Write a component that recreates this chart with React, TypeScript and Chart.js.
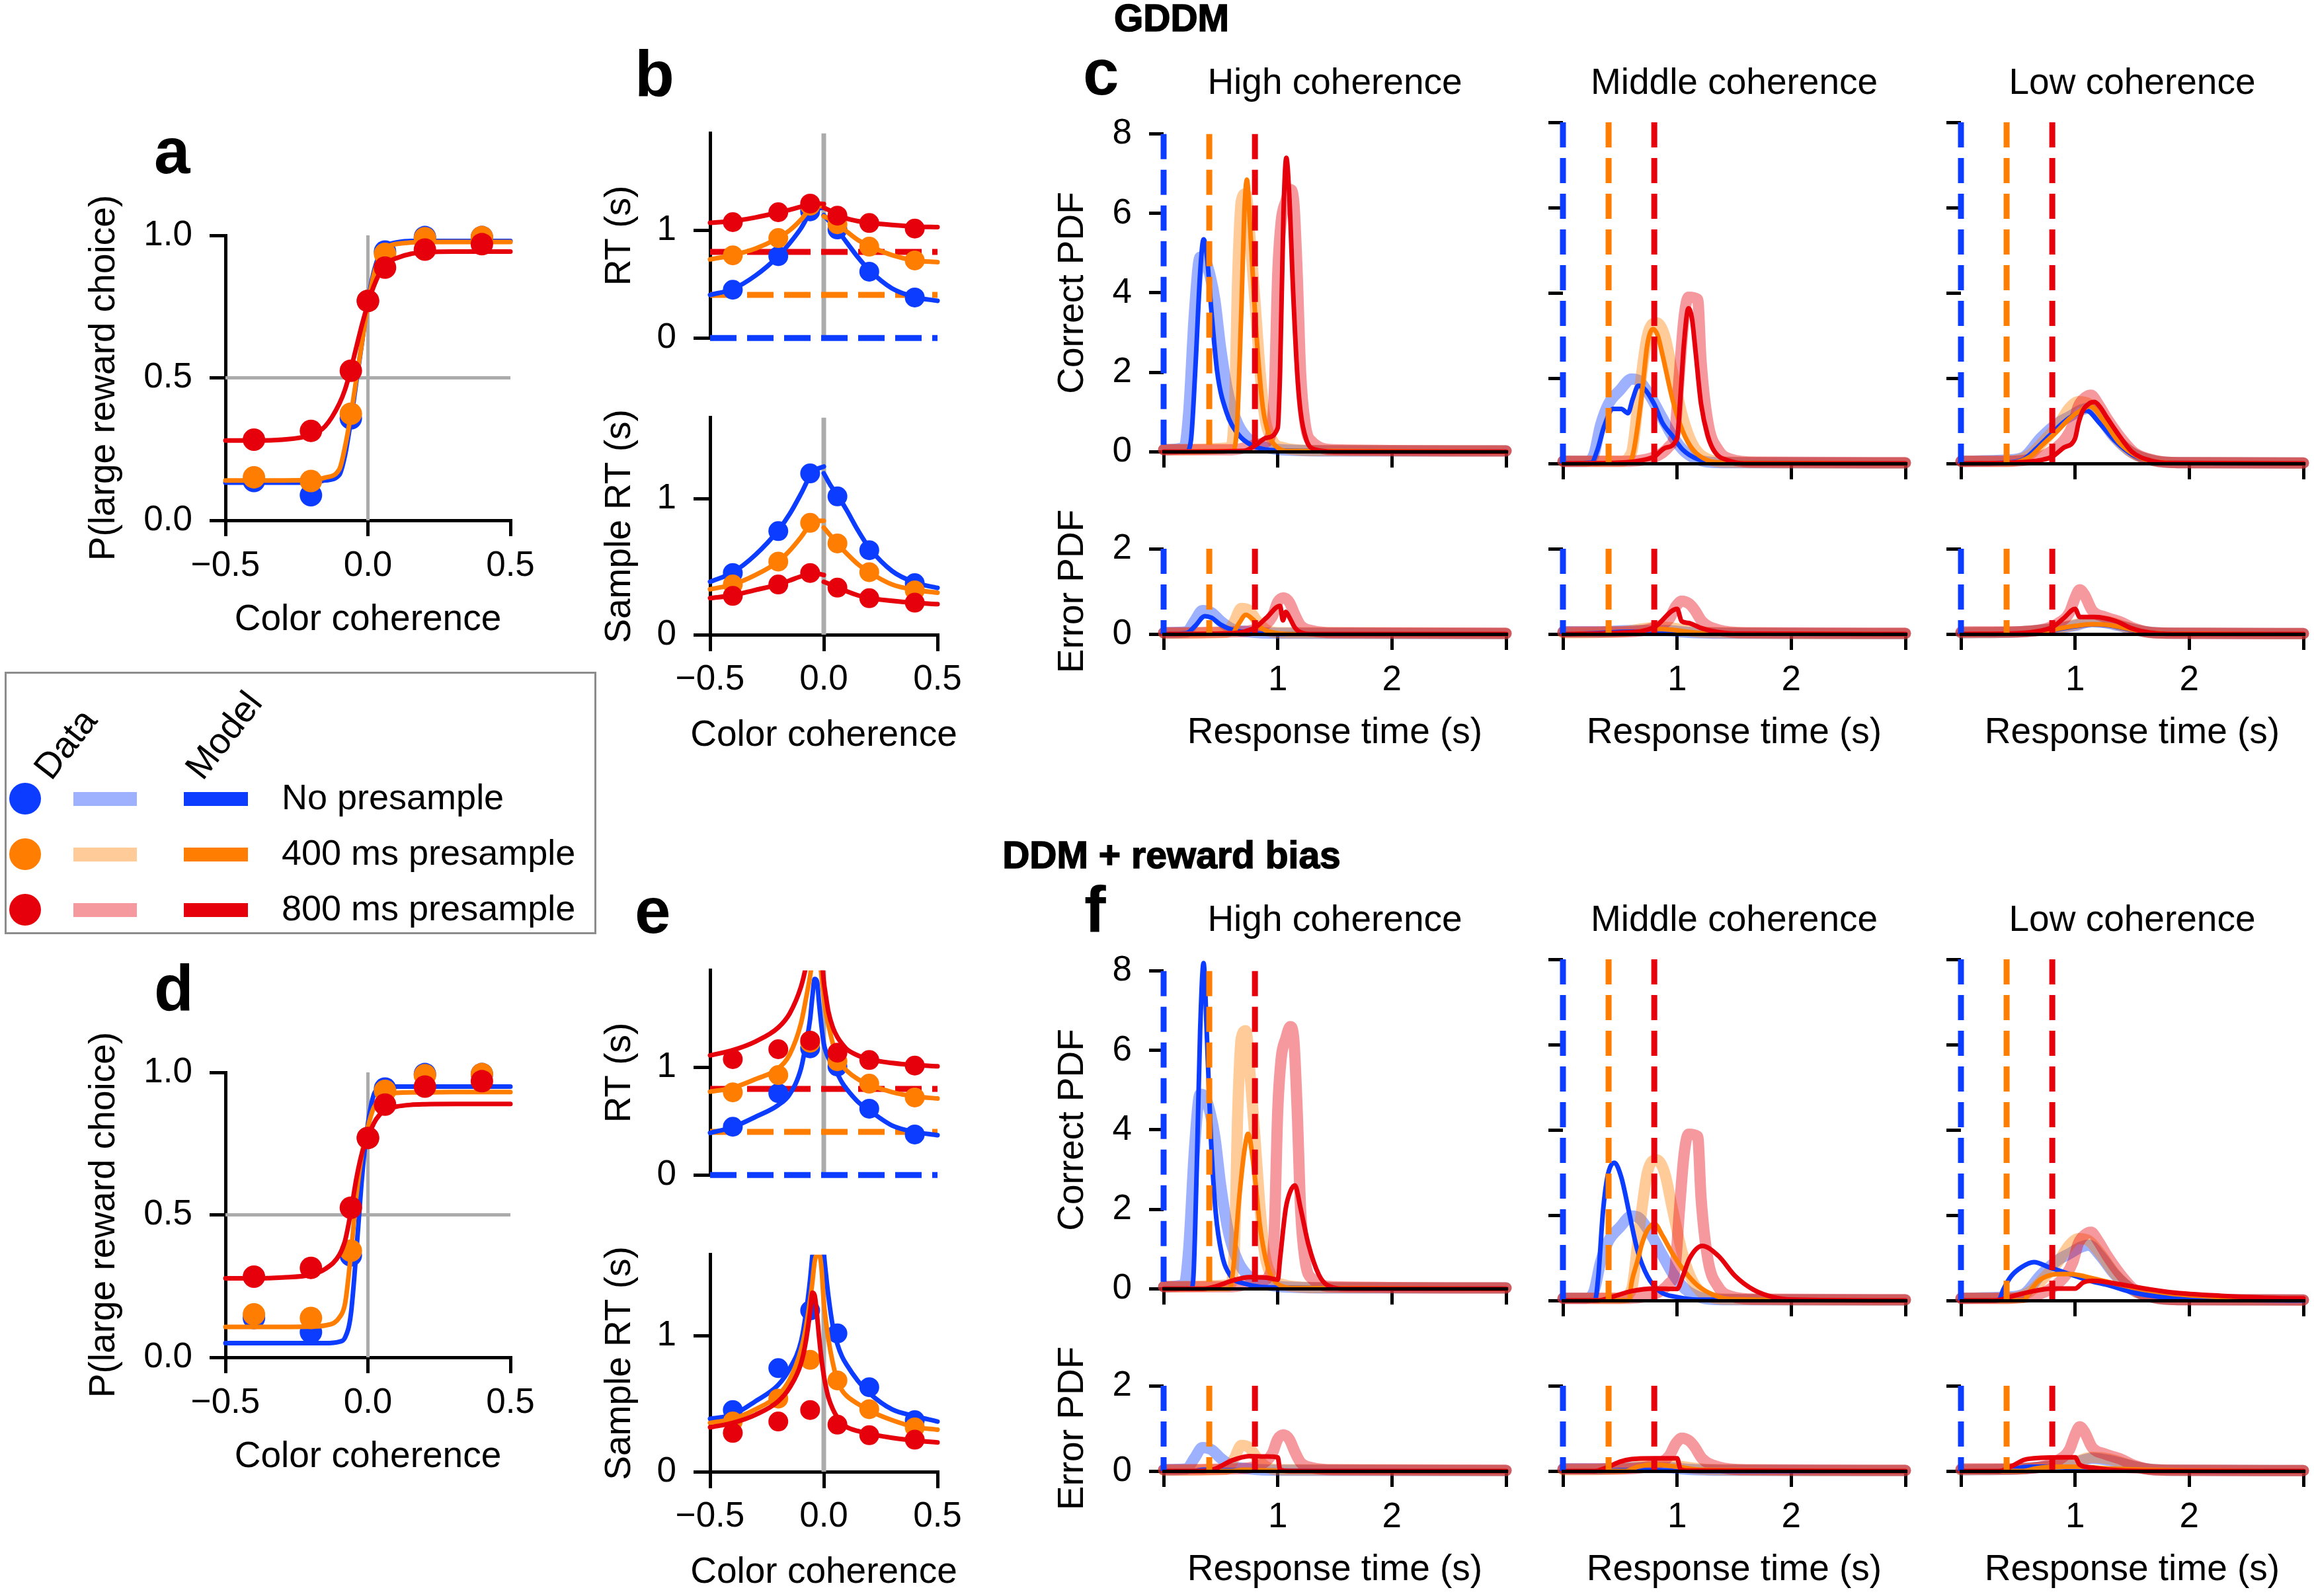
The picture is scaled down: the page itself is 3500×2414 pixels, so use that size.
import React, { useEffect, useRef } from 'react';
import { Chart, registerables } from 'chart.js';

Chart.register(...registerables);

const FONT = '"Liberation Sans", Arial, Helvetica, sans-serif';
Chart.defaults.font.family = FONT;
Chart.defaults.color = '#000';

const BLUE = '#0b3cff';
const ORANGE = '#ff7d00';
const RED = '#e6000c';
const COLORS = [BLUE, ORANGE, RED];
const PALES = ['rgba(11,60,255,0.4)', 'rgba(255,125,0,0.4)', 'rgba(230,0,12,0.4)'];
const GRAY = '#ababab';
const TICK_FONT = { family: FONT, size: 53, lineHeight: 1.2 };
const TITLE_FONT = { family: FONT, size: 55, lineHeight: 1.2 };

// ---------- conditions ----------
const conditionLabels = ['No presample', '400 ms presample', '800 ms presample'];
const presampleOnsets = [0, 0.4, 0.8];

// ---------- panel a / d : choice ----------
const choiceCoh = [-0.4, -0.2, -0.06, 0, 0.06, 0.2, 0.4];
const choiceBlue = [0.138, 0.088, 0.358, 0.77, 0.943, 0.994, 0.994];
const choiceOrange = [0.151, 0.138, 0.374, 0.77, 0.935, 0.99, 0.994];
const choiceRed = [0.283, 0.314, 0.525, 0.77, 0.887, 0.95, 0.969];

const choiceGrid = [-0.5, -0.4, -0.3, -0.2, -0.15, -0.1, -0.08, -0.06, -0.04, -0.02, 0, 0.02, 0.04, 0.06, 0.08, 0.1, 0.15, 0.2, 0.3, 0.4, 0.5];
const gddmChoiceBlue = [0.132, 0.132, 0.132, 0.133, 0.14, 0.16, 0.23, 0.35, 0.49, 0.63, 0.77, 0.87, 0.93, 0.955, 0.97, 0.975, 0.98, 0.98, 0.98, 0.98, 0.98];
const gddmChoiceOrange = [0.14, 0.14, 0.14, 0.142, 0.15, 0.18, 0.26, 0.37, 0.5, 0.63, 0.76, 0.86, 0.92, 0.95, 0.965, 0.97, 0.975, 0.977, 0.977, 0.977, 0.977];
const gddmChoiceRed = [0.28, 0.28, 0.283, 0.3, 0.33, 0.41, 0.46, 0.53, 0.61, 0.69, 0.76, 0.82, 0.865, 0.89, 0.91, 0.92, 0.935, 0.94, 0.943, 0.943, 0.943];
const ddmChoiceBlue = [0.05, 0.05, 0.05, 0.05, 0.05, 0.055, 0.07, 0.15, 0.38, 0.64, 0.82, 0.92, 0.943, 0.95, 0.95, 0.95, 0.95, 0.95, 0.95, 0.95, 0.95];
const ddmChoiceOrange = [0.107, 0.107, 0.107, 0.108, 0.112, 0.14, 0.19, 0.36, 0.57, 0.72, 0.81, 0.875, 0.905, 0.918, 0.925, 0.928, 0.93, 0.93, 0.931, 0.931, 0.931];
const ddmChoiceRed = [0.277, 0.277, 0.28, 0.29, 0.31, 0.36, 0.41, 0.51, 0.63, 0.72, 0.77, 0.82, 0.85, 0.865, 0.875, 0.88, 0.886, 0.888, 0.889, 0.889, 0.889];

// ---------- panel b / e : RT ----------
const rtCoh = [-0.4, -0.2, -0.06, 0.06, 0.2, 0.4];
const rtBlue = [0.448, 0.76, 1.176, 1.008, 0.616, 0.376];
const rtOrange = [0.768, 0.928, 1.228, 1.056, 0.848, 0.72];
const rtRed = [1.076, 1.168, 1.248, 1.136, 1.068, 1.016];
const sampleBlue = [0.455, 0.764, 1.189, 1.02, 0.623, 0.38];
const sampleOrange = [0.37, 0.539, 0.825, 0.673, 0.461, 0.327];
const sampleRed = [0.286, 0.37, 0.455, 0.347, 0.269, 0.236];

const gddmLeftGrid = [-0.5, -0.4, -0.3, -0.2, -0.15, -0.1, -0.06, -0.03, 0];
const gddmRightGrid = [0, 0.03, 0.06, 0.1, 0.15, 0.2, 0.3, 0.4, 0.5];
const gddmRtBlueL = [0.4, 0.455, 0.58, 0.76, 0.88, 1.02, 1.16, 1.2, 1.21];
const gddmRtBlueR = [1.14, 1.07, 1.0, 0.89, 0.75, 0.63, 0.46, 0.38, 0.345];
const gddmRtOrangeL = [0.73, 0.77, 0.83, 0.93, 1.0, 1.1, 1.2, 1.23, 1.22];
const gddmRtOrangeR = [1.13, 1.1, 1.06, 0.99, 0.91, 0.855, 0.77, 0.72, 0.705];
const gddmRtRedL = [1.07, 1.085, 1.12, 1.165, 1.19, 1.22, 1.245, 1.25, 1.245];
const gddmRtRedR = [1.21, 1.18, 1.145, 1.11, 1.085, 1.07, 1.05, 1.035, 1.03];
const gddmSampleBlueL = [0.39, 0.46, 0.59, 0.77, 0.89, 1.04, 1.17, 1.22, 1.24];
const gddmSampleBlueR = [1.19, 1.1, 1.03, 0.92, 0.77, 0.64, 0.47, 0.385, 0.345];
const gddmSampleOrangeL = [0.335, 0.37, 0.44, 0.54, 0.62, 0.72, 0.81, 0.84, 0.84];
const gddmSampleOrangeR = [0.79, 0.73, 0.67, 0.6, 0.52, 0.46, 0.37, 0.33, 0.31];
const gddmSampleRedL = [0.27, 0.29, 0.33, 0.37, 0.4, 0.43, 0.45, 0.45, 0.44];
const gddmSampleRedR = [0.39, 0.37, 0.35, 0.32, 0.29, 0.27, 0.25, 0.235, 0.225];

const ddmGrid = [-0.5, -0.4, -0.3, -0.2, -0.15, -0.1, -0.08, -0.06, -0.05, -0.04, -0.03, -0.02, -0.01, 0, 0.01, 0.02, 0.04, 0.06, 0.08, 0.1, 0.15, 0.2, 0.3, 0.4, 0.5];
const ddmRtBlue = [0.39, 0.445, 0.54, 0.65, 0.75, 0.99, 1.2, 1.45, 1.66, 1.82, 1.8, 1.58, 1.38, 1.22, 1.14, 1.09, 1.01, 0.94, 0.86, 0.8, 0.68, 0.6, 0.46, 0.4, 0.37];
const ddmRtOrange = [0.774, 0.81, 0.89, 0.99, 1.12, 1.41, 1.62, 1.85, 2.0, 2.15, 2.2, 2.05, 1.85, 1.65, 1.5, 1.4, 1.22, 1.09, 1.02, 0.97, 0.89, 0.84, 0.77, 0.73, 0.71];
const ddmRtRed = [1.11, 1.16, 1.24, 1.37, 1.5, 1.75, 1.92, 2.15, 2.3, 2.4, 2.4, 2.3, 2.05, 1.8, 1.65, 1.52, 1.37, 1.28, 1.22, 1.17, 1.11, 1.075, 1.04, 1.02, 1.01];
const ddmSampleBlue = [0.39, 0.42, 0.52, 0.64, 0.76, 0.96, 1.15, 1.42, 1.6, 1.8, 1.95, 2.0, 1.9, 1.62, 1.45, 1.3, 1.07, 0.94, 0.85, 0.79, 0.67, 0.58, 0.46, 0.41, 0.37];
const ddmSampleOrange = [0.36, 0.39, 0.46, 0.565, 0.68, 0.9, 1.05, 1.27, 1.4, 1.55, 1.6, 1.6, 1.5, 1.25, 1.1, 0.98, 0.8, 0.67, 0.6, 0.56, 0.5, 0.45, 0.38, 0.33, 0.31];
const ddmSampleRed = [0.327, 0.36, 0.42, 0.52, 0.62, 0.8, 0.95, 1.18, 1.32, 1.3, 1.16, 0.98, 0.83, 0.71, 0.62, 0.55, 0.46, 0.4, 0.36, 0.33, 0.3, 0.28, 0.25, 0.23, 0.216];

// ---------- panel c / f : RT distributions, [time (s), density] ----------
// data (shared by c and f)
const dataHiCorBlue = [[0, 0.05], [0.18, 0.1], [0.22, 1.0], [0.27, 3.5], [0.32, 4.9], [0.36, 4.85], [0.41, 4.4], [0.45, 3.8], [0.5, 2.6], [0.57, 1.4], [0.65, 0.7], [0.75, 0.3], [0.9, 0.1], [1.1, 0.04], [1.5, 0.02], [3, 0.02]];
const dataHiCorOrange = [[0, 0.05], [0.58, 0.1], [0.62, 1.0], [0.65, 4.5], [0.68, 6.3], [0.72, 6.5], [0.76, 5.3], [0.8, 3.8], [0.84, 2.2], [0.88, 1.0], [0.95, 0.3], [1.05, 0.1], [1.3, 0.03], [3, 0.02]];
const dataHiCorRed = [[0, 0.05], [0.6, 0.05], [0.85, 0.2], [0.93, 0.35], [0.97, 1.5], [1.0, 4.5], [1.03, 5.8], [1.07, 6.3], [1.11, 6.6], [1.14, 6.3], [1.17, 4.5], [1.2, 2.0], [1.24, 0.7], [1.3, 0.25], [1.5, 0.05], [3, 0.02]];
const dataHiErrBlue = [[0, 0.03], [0.2, 0.05], [0.27, 0.3], [0.34, 0.55], [0.42, 0.5], [0.5, 0.3], [0.6, 0.12], [0.75, 0.05], [1, 0.02], [3, 0.01]];
const dataHiErrOrange = [[0, 0.02], [0.55, 0.04], [0.62, 0.3], [0.68, 0.6], [0.75, 0.55], [0.82, 0.3], [0.9, 0.1], [1, 0.03], [3, 0.01]];
const dataHiErrRed = [[0, 0.03], [0.6, 0.05], [0.85, 0.15], [0.95, 0.4], [1.0, 0.75], [1.05, 0.85], [1.1, 0.75], [1.15, 0.45], [1.2, 0.2], [1.3, 0.08], [1.5, 0.03], [3, 0.02]];
const dataMidCorBlue = [[0, 0.05], [0.2, 0.05], [0.27, 0.2], [0.33, 0.9], [0.4, 1.4], [0.5, 1.72], [0.6, 1.98], [0.67, 1.93], [0.76, 1.6], [0.87, 1.07], [0.96, 0.64], [1.07, 0.27], [1.22, 0.06], [1.4, 0.02], [3, 0.01]];
const dataMidCorOrange = [[0, 0.05], [0.5, 0.05], [0.6, 0.25], [0.67, 1.7], [0.74, 3.0], [0.82, 3.3], [0.89, 3.0], [0.96, 2.14], [1.05, 1.07], [1.14, 0.43], [1.27, 0.1], [1.45, 0.03], [3, 0.01]];
const dataMidCorRed = [[0, 0.05], [0.5, 0.05], [0.8, 0.15], [0.93, 0.4], [0.98, 0.7], [1.02, 2.1], [1.06, 3.4], [1.1, 3.9], [1.18, 3.85], [1.21, 2.4], [1.27, 0.96], [1.36, 0.32], [1.47, 0.1], [1.7, 0.03], [3, 0.02]];
const dataMidErrBlue = [[0, 0.05], [0.3, 0.05], [0.6, 0.08], [0.9, 0.08], [1.1, 0.04], [1.4, 0.02], [3, 0.01]];
const dataMidErrOrange = [[0, 0.03], [0.5, 0.05], [0.75, 0.14], [0.9, 0.16], [1.05, 0.1], [1.25, 0.04], [3, 0.01]];
const dataMidErrRed = [[0, 0.05], [0.5, 0.05], [0.8, 0.15], [0.93, 0.35], [0.99, 0.65], [1.04, 0.77], [1.1, 0.72], [1.15, 0.58], [1.22, 0.29], [1.36, 0.1], [1.6, 0.03], [3, 0.02]];
const dataLowCorBlue = [[0, 0.05], [0.4, 0.08], [0.55, 0.15], [0.7, 0.6], [0.85, 0.95], [0.95, 1.1], [1.05, 1.25], [1.12, 1.3], [1.22, 1.05], [1.35, 0.6], [1.5, 0.25], [1.68, 0.07], [1.9, 0.02], [3, 0.01]];
const dataLowCorOrange = [[0, 0.05], [0.4, 0.05], [0.6, 0.2], [0.75, 0.6], [0.85, 0.9], [0.95, 1.3], [1.03, 1.45], [1.12, 1.4], [1.22, 1.1], [1.35, 0.62], [1.5, 0.25], [1.68, 0.07], [1.9, 0.02], [3, 0.01]];
const dataLowCorRed = [[0, 0.05], [0.4, 0.05], [0.65, 0.12], [0.8, 0.3], [0.92, 0.6], [0.98, 0.9], [1.03, 1.35], [1.09, 1.55], [1.14, 1.6], [1.2, 1.4], [1.28, 1.05], [1.4, 0.6], [1.52, 0.25], [1.7, 0.07], [1.9, 0.02], [3, 0.01]];
const dataLowErrBlue = [[0, 0.03], [0.5, 0.05], [0.8, 0.12], [1.0, 0.2], [1.15, 0.3], [1.3, 0.25], [1.45, 0.15], [1.6, 0.06], [1.8, 0.02], [3, 0.01]];
const dataLowErrOrange = [[0, 0.03], [0.5, 0.05], [0.8, 0.12], [1.0, 0.22], [1.15, 0.32], [1.3, 0.28], [1.45, 0.16], [1.6, 0.06], [1.8, 0.02], [3, 0.01]];
const dataLowErrRed = [[0, 0.05], [0.4, 0.05], [0.7, 0.1], [0.85, 0.25], [0.95, 0.5], [1.0, 0.85], [1.04, 1.04], [1.08, 0.93], [1.15, 0.55], [1.26, 0.4], [1.39, 0.29], [1.52, 0.13], [1.68, 0.03], [1.9, 0.02], [3, 0.01]];

// GDDM model (panel c)
const gddmHiCorBlue = [[0, 0], [0.2, 0], [0.24, 0.3], [0.28, 2.2], [0.32, 4.5], [0.35, 5.35], [0.38, 4.9], [0.42, 3.5], [0.47, 2.0], [0.55, 1.0], [0.65, 0.45], [0.78, 0.15], [1.0, 0.03], [3, 0]];
const gddmHiCorOrange = [[0, 0], [0.6, 0.02], [0.64, 0.5], [0.68, 3.5], [0.71, 6.2], [0.73, 6.85], [0.755, 5.8], [0.79, 4.0], [0.83, 2.3], [0.87, 1.1], [0.92, 0.45], [1.0, 0.1], [1.1, 0.02], [3, 0]];
const gddmHiCorRed = [[0, 0], [0.7, 0.02], [0.8, 0.15], [0.9, 0.35], [1.0, 0.6], [1.02, 2.0], [1.05, 6.0], [1.075, 7.4], [1.1, 6.5], [1.135, 4.0], [1.17, 2.0], [1.2, 1.0], [1.25, 0.3], [1.32, 0.06], [1.5, 0], [3, 0]];
const gddmHiErrBlue = [[0, 0], [0.2, 0.02], [0.28, 0.2], [0.36, 0.42], [0.42, 0.38], [0.5, 0.22], [0.6, 0.1], [0.75, 0.03], [1, 0], [3, 0]];
const gddmHiErrOrange = [[0, 0], [0.6, 0.02], [0.66, 0.25], [0.72, 0.45], [0.78, 0.35], [0.85, 0.15], [0.95, 0.04], [1.1, 0], [3, 0]];
const gddmHiErrRed = [[0, 0], [0.6, 0.02], [0.8, 0.15], [0.9, 0.38], [1.02, 0.66], [1.045, 0.32], [1.07, 0.52], [1.1, 0.4], [1.15, 0.15], [1.2, 0.04], [1.3, 0], [3, 0]];
const gddmMidCorBlue = [[0, 0], [0.25, 0.02], [0.3, 0.3], [0.36, 0.86], [0.44, 1.28], [0.51, 1.28], [0.57, 1.18], [0.61, 1.5], [0.66, 1.82], [0.71, 1.76], [0.8, 1.39], [0.87, 0.96], [0.96, 0.64], [1.05, 0.32], [1.18, 0.1], [1.4, 0.02], [3, 0]];
const gddmMidCorOrange = [[0, 0], [0.58, 0.02], [0.62, 0.3], [0.69, 1.6], [0.74, 2.8], [0.79, 3.15], [0.83, 3.0], [0.87, 2.57], [0.96, 1.5], [1.05, 0.75], [1.14, 0.32], [1.27, 0.07], [1.4, 0.02], [3, 0]];
const gddmMidCorRed = [[0, 0], [0.5, 0.02], [0.7, 0.08], [0.8, 0.16], [0.9, 0.37], [1.0, 0.59], [1.03, 1.6], [1.06, 2.8], [1.1, 3.64], [1.13, 3.4], [1.16, 2.67], [1.21, 1.39], [1.27, 0.64], [1.33, 0.27], [1.45, 0.07], [1.6, 0], [3, 0]];
const gddmMidErrBlue = [[0, 0], [0.3, 0.02], [0.5, 0.05], [0.7, 0.06], [0.9, 0.05], [1.1, 0.03], [1.3, 0.01], [3, 0]];
const gddmMidErrOrange = [[0, 0], [0.6, 0.03], [0.8, 0.12], [0.95, 0.1], [1.1, 0.05], [1.3, 0.01], [3, 0]];
const gddmMidErrRed = [[0, 0], [0.5, 0.03], [0.8, 0.16], [1.0, 0.59], [1.04, 0.3], [1.1, 0.26], [1.2, 0.15], [1.31, 0.07], [1.5, 0.01], [3, 0]];
const gddmLowCorBlue = [[0, 0], [0.4, 0.02], [0.55, 0.1], [0.66, 0.35], [0.77, 0.64], [0.95, 1.07], [1.1, 1.24], [1.21, 0.96], [1.35, 0.53], [1.5, 0.21], [1.66, 0.06], [1.85, 0.01], [3, 0]];
const gddmLowCorOrange = [[0, 0], [0.45, 0.02], [0.6, 0.15], [0.72, 0.45], [0.84, 0.75], [0.95, 1.05], [1.04, 1.23], [1.13, 1.34], [1.26, 0.96], [1.39, 0.48], [1.55, 0.16], [1.68, 0.05], [1.9, 0.01], [3, 0]];
const gddmLowCorRed = [[0, 0], [0.45, 0.02], [0.7, 0.08], [0.8, 0.16], [0.9, 0.37], [1.0, 0.59], [1.03, 0.95], [1.07, 1.25], [1.12, 1.4], [1.17, 1.44], [1.22, 1.32], [1.28, 1.07], [1.39, 0.64], [1.5, 0.27], [1.66, 0.07], [1.85, 0.01], [3, 0]];
const gddmLowErrBlue = [[0, 0], [0.5, 0.01], [0.75, 0.06], [0.95, 0.16], [1.15, 0.22], [1.3, 0.2], [1.45, 0.12], [1.6, 0.05], [1.8, 0.01], [3, 0]];
const gddmLowErrOrange = [[0, 0], [0.5, 0.01], [0.75, 0.07], [0.95, 0.17], [1.15, 0.23], [1.3, 0.21], [1.45, 0.13], [1.6, 0.05], [1.8, 0.01], [3, 0]];
const gddmLowErrRed = [[0, 0], [0.5, 0.02], [0.7, 0.08], [0.8, 0.16], [0.9, 0.37], [1.0, 0.59], [1.04, 0.4], [1.17, 0.4], [1.35, 0.31], [1.5, 0.13], [1.66, 0.03], [1.85, 0], [3, 0]];

// DDM + reward bias model (panel f)
const ddmHiCorBlue = [[0, 0], [0.24, 0], [0.26, 0.25], [0.29, 3.0], [0.32, 6.5], [0.35, 8.2], [0.38, 6.3], [0.415, 3.75], [0.457, 1.9], [0.51, 0.87], [0.58, 0.35], [0.72, 0.12], [1.0, 0.03], [3, 0]];
const ddmHiCorOrange = [[0, 0], [0.58, 0], [0.61, 0.5], [0.665, 2.37], [0.71, 3.52], [0.74, 3.9], [0.79, 3.06], [0.845, 1.56], [0.915, 0.52], [1.0, 0.12], [1.14, 0.02], [3, 0]];
const ddmHiCorRed = [[0, 0], [0.35, 0], [0.45, 0.05], [0.6, 0.2], [0.75, 0.29], [0.9, 0.28], [1.0, 0.23], [1.02, 0.75], [1.07, 2.02], [1.11, 2.45], [1.15, 2.6], [1.2, 2.02], [1.27, 1.1], [1.36, 0.35], [1.44, 0.08], [1.6, 0], [3, 0]];
const ddmHiErrBlue = [[0, 0], [0.25, 0], [0.35, 0.03], [0.5, 0.02], [0.8, 0.01], [3, 0]];
const ddmHiErrOrange = [[0, 0], [0.6, 0], [0.7, 0.03], [0.85, 0.02], [1.1, 0], [3, 0]];
const ddmHiErrRed = [[0, 0], [0.35, 0], [0.45, 0.05], [0.6, 0.25], [0.75, 0.35], [0.9, 0.34], [1.0, 0.32], [1.02, 0.03], [1.1, 0], [3, 0]];
const ddmMidCorBlue = [[0, 0], [0.28, 0], [0.31, 0.57], [0.35, 2.06], [0.39, 2.9], [0.45, 3.23], [0.51, 2.9], [0.58, 2.06], [0.65, 1.2], [0.74, 0.57], [0.85, 0.21], [1.0, 0.08], [1.18, 0.02], [3, 0]];
const ddmMidCorOrange = [[0, 0], [0.58, 0], [0.6, 0.4], [0.65, 0.9], [0.69, 1.31], [0.74, 1.65], [0.8, 1.8], [0.87, 1.53], [0.96, 1.1], [1.07, 0.67], [1.18, 0.35], [1.31, 0.14], [1.47, 0.03], [3, 0]];
const ddmMidCorRed = [[0, 0], [0.3, 0], [0.45, 0.1], [0.6, 0.22], [0.8, 0.28], [1.0, 0.27], [1.05, 0.57], [1.11, 0.99], [1.22, 1.28], [1.36, 1.05], [1.51, 0.57], [1.67, 0.25], [1.84, 0.08], [2.02, 0.02], [3, 0]];
const ddmMidErrBlue = [[0, 0], [0.3, 0], [0.5, 0.02], [0.8, 0.02], [1.2, 0], [3, 0]];
const ddmMidErrOrange = [[0, 0], [0.55, 0], [0.65, 0.1], [0.8, 0.15], [1.0, 0.1], [1.2, 0.03], [3, 0]];
const ddmMidErrRed = [[0, 0], [0.28, 0], [0.4, 0.1], [0.5, 0.22], [0.6, 0.28], [0.8, 0.3], [1.0, 0.3], [1.03, 0.04], [1.1, 0.01], [3, 0]];
const ddmLowCorBlue = [[0, 0], [0.33, 0], [0.37, 0.25], [0.44, 0.57], [0.53, 0.78], [0.64, 0.9], [0.77, 0.78], [0.95, 0.62], [1.13, 0.46], [1.3, 0.35], [1.5, 0.19], [1.73, 0.09], [2.06, 0.03], [3, 0]];
const ddmLowCorOrange = [[0, 0], [0.55, 0], [0.6, 0.2], [0.68, 0.46], [0.79, 0.6], [0.88, 0.62], [0.95, 0.62], [1.17, 0.51], [1.39, 0.37], [1.61, 0.25], [1.84, 0.16], [2.28, 0.08], [2.94, 0.03], [3, 0.03]];
const ddmLowCorRed = [[0, 0], [0.3, 0], [0.45, 0.1], [0.6, 0.2], [0.8, 0.28], [1.0, 0.28], [1.07, 0.42], [1.15, 0.46], [1.39, 0.38], [1.61, 0.28], [1.84, 0.19], [2.28, 0.11], [2.94, 0.05], [3, 0.05]];
const ddmLowErrBlue = [[0, 0], [0.33, 0], [0.45, 0.05], [0.6, 0.1], [0.8, 0.1], [1.0, 0.07], [1.3, 0.03], [1.6, 0.01], [3, 0]];
const ddmLowErrOrange = [[0, 0], [0.55, 0], [0.65, 0.06], [0.8, 0.1], [1.0, 0.1], [1.3, 0.06], [1.6, 0.03], [2, 0.01], [3, 0]];
const ddmLowErrRed = [[0, 0], [0.33, 0], [0.45, 0.12], [0.55, 0.26], [0.7, 0.31], [0.9, 0.32], [1.0, 0.32], [1.04, 0.15], [1.15, 0.08], [1.3, 0.03], [1.6, 0], [3, 0]];

// tick values
const cohTicks = [-0.5, 0, 0.5];
const probTicks = [0, 0.5, 1];
const rtTicks = [0, 1];
const timeTicks = [0, 1, 2, 3];
const correctTicks = [0, 2, 4, 6, 8];
const errorTicks = [0, 2];
const columnTitles = ['High coherence', 'Middle coherence', 'Low coherence'];

// ---------- helpers ----------
const pts = (a: number[][]) => a.map(([x, y]) => ({ x, y }));
const zip = (xs: number[], ys: number[]) => xs.map((x, i) => ({ x, y: ys[i] }));
const fmt1 = (v: number) => (v < 0 ? '\u2212' : '') + Math.abs(v).toFixed(1);
const fmt0 = (v: number) => String(v);
const fmtTime = (v: number) => (v === 1 || v === 2 ? String(v) : '');

function curve(data: any[], color: string, width: number, clip: any) {
  return {
    data, borderColor: color, backgroundColor: color, borderWidth: width, pointRadius: 0, fill: false,
    cubicInterpolationMode: 'monotone', borderCapStyle: 'round', borderJoinStyle: 'round', clip,
  };
}
function straight(data: any[], color: string, width: number, dash: number[] = []) {
  return {
    data, borderColor: color, backgroundColor: color, borderWidth: width, pointRadius: 0, fill: false,
    tension: 0, borderDash: dash, borderCapStyle: 'butt', clip: false,
  };
}
function dots(data: any[], color: string, r: number) {
  return {
    data, showLine: false, pointRadius: r, pointBackgroundColor: color, pointBorderColor: color,
    pointBorderWidth: 0, borderColor: color, backgroundColor: color, clip: false,
  };
}
function stack(list: any[]) {
  const n = list.length;
  return list.map((d, i) => ({ ...d, order: n - i }));
}
function scale(o: any) {
  return {
    type: 'linear', min: o.min, max: o.max,
    afterFit: (s: any) => { if (o.horizontal) s.height = o.size; else s.width = o.size; },
    afterBuildTicks: (s: any) => { s.ticks = o.ticks.map((v: number) => ({ value: v })); },
    ticks: {
      display: !!o.labels, autoSkip: false, maxRotation: 0, minRotation: 0, padding: o.pad || 0,
      color: '#000', font: TICK_FONT, callback: (v: number) => (o.labels ? o.labels(v) : ''),
    },
    grid: {
      display: (o.tick || 0) > 0, drawOnChartArea: false, drawTicks: true, tickLength: o.tick || 0,
      tickWidth: 5, tickColor: '#000', color: '#000', lineWidth: 5,
    },
    border: { display: !!o.border, width: 5, color: '#000', z: o.borderZ || 0 },
    title: { display: !!o.title, text: o.title || '', color: '#000', font: TITLE_FONT, padding: { top: 0, bottom: 0 } },
  };
}
function config(datasets: any[], xs: any, ys: any, f: any) {
  return {
    type: 'line',
    data: { datasets },
    options: {
      animation: false, responsive: false, maintainAspectRatio: false, events: [],
      layout: { padding: { top: f.T, right: f.R, left: 0, bottom: 0 } },
      plugins: { legend: { display: false }, tooltip: { enabled: false }, title: { display: false } },
      scales: { x: xs, y: ys },
    },
  };
}
function frame(px: number, py: number, pw: number, ph: number, L: number, T: number, R: number, B: number) {
  return { left: px - L, top: py - T, width: pw + L + R, height: ph + T + B, L, T, R, B };
}

const MODEL_W = 7;
const PALE_W = 17;

// ---------- builders ----------
function choiceBuild(models: number[][]) {
  return (f: any) => {
    const dotVals = [choiceBlue, choiceOrange, choiceRed];
    const list: any[] = [
      straight([{ x: 0, y: 0 }, { x: 0, y: 1 }], GRAY, 5),
      straight([{ x: -0.5, y: 0.5 }, { x: 0.5, y: 0.5 }], GRAY, 5),
    ];
    models.forEach((m, i) => {
      list.push(curve(zip(choiceGrid, m), COLORS[i], MODEL_W, 6));
      list.push(dots(zip(choiceCoh, dotVals[i]), COLORS[i], 17));
    });
    const xs = scale({ horizontal: true, min: -0.5, max: 0.5, ticks: cohTicks, labels: fmt1, size: f.B, tick: 24, pad: 14, border: true, title: 'Color coherence' });
    const ys = scale({ horizontal: false, min: 0, max: 1, ticks: probTicks, labels: fmt1, size: f.L, tick: 24, pad: 26, border: true, title: 'P(large reward choice)' });
    return config(stack(list), xs, ys, f);
  };
}

function rtBuild(modelsByColor: any[][], dotVals: number[][], ymax: number, top: boolean, yTitle: string) {
  return (f: any) => {
    const list: any[] = [straight([{ x: 0, y: 0 }, { x: 0, y: ymax }], GRAY, 7)];
    if (top) presampleOnsets.forEach((s, i) => list.push(straight([{ x: -0.5, y: s }, { x: 0.5, y: s }], COLORS[i], 9, [40, 16])));
    const clip = { left: 6, right: 6, top: 0, bottom: 6 };
    modelsByColor.forEach((branches, i) => {
      branches.forEach((b: any[]) => list.push(curve(b, COLORS[i], MODEL_W, clip)));
      list.push(dots(zip(rtCoh, dotVals[i]), COLORS[i], 15));
    });
    const xs = top
      ? scale({ horizontal: true, min: -0.5, max: 0.5, ticks: cohTicks, size: f.B, tick: 0, border: false })
      : scale({ horizontal: true, min: -0.5, max: 0.5, ticks: cohTicks, labels: fmt1, size: f.B, tick: 25, pad: 12, border: true });
    const ys = scale({ horizontal: false, min: 0, max: ymax, ticks: rtTicks, labels: fmt0, size: f.L, tick: 25, pad: 26, border: true, title: yTitle });
    return config(stack(list), xs, ys, f);
  };
}

function pdfBuild(pale: number[][][], model: number[][][], isError: boolean, showY: boolean) {
  return (f: any) => {
    const ymax = isError ? 2 : 8;
    const clip = { left: 12, right: 12, top: 20, bottom: 12 };
    const list: any[] = [];
    pale.forEach((d, i) => list.push(curve(pts(d), PALES[i], PALE_W, clip)));
    model.forEach((d, i) => list.push(curve(pts(d), COLORS[i], MODEL_W, clip)));
    presampleOnsets.forEach((s, i) => list.push(straight([{ x: s, y: ymax }, { x: s, y: 0 }], COLORS[i], 9, [38, 16])));
    const xs = scale({ horizontal: true, min: 0, max: 3, ticks: timeTicks, labels: isError ? fmtTime : undefined, size: f.B, tick: 24, pad: 15, border: true, borderZ: 1, title: isError ? 'Response time (s)' : undefined });
    const ys = scale({ horizontal: false, min: 0, max: ymax, ticks: isError ? errorTicks : correctTicks, labels: showY ? fmt0 : undefined, size: f.L, tick: 22, pad: 26, border: false, title: showY ? (isError ? 'Error PDF' : 'Correct PDF') : undefined });
    return config(stack(list), xs, ys, f);
  };
}

// ---------- components ----------
function Plot({ f, build }: any) {
  const ref = useRef<HTMLCanvasElement>(null);
  useEffect(() => {
    const chart = new Chart(ref.current as HTMLCanvasElement, build(f) as any);
    return () => chart.destroy();
  }, []);
  return (
    <canvas ref={ref} width={f.width} height={f.height}
      style={{ position: 'absolute', left: f.left, top: f.top, width: f.width, height: f.height }} />
  );
}

function Txt({ x, y, size, bold = false, center = false, rotate = 0, stroke = 0, children }: any) {
  const asc = 0.8465 * size;
  const tf = [center ? 'translateX(-50%)' : '', rotate ? `rotate(${rotate}deg)` : ''].join(' ').trim();
  return (
    <div style={{
      position: 'absolute', left: x, top: y - asc, fontFamily: FONT, fontSize: size, lineHeight: 1,
      fontWeight: bold ? 700 : 400, whiteSpace: 'nowrap', color: '#000',
      transform: tf || undefined, transformOrigin: `0px ${asc}px`,
      WebkitTextStroke: stroke ? `${stroke}px #000` : undefined,
    }}>{children}</div>
  );
}

const COL_X = [1760, 2364, 2966];
const PDF_W = 518;
const HALF_SHIFT = 1266;

const pdfSets = [
  {
    data: [[dataHiCorBlue, dataHiCorOrange, dataHiCorRed], [dataHiErrBlue, dataHiErrOrange, dataHiErrRed]],
    gddm: [[gddmHiCorBlue, gddmHiCorOrange, gddmHiCorRed], [gddmHiErrBlue, gddmHiErrOrange, gddmHiErrRed]],
    ddm: [[ddmHiCorBlue, ddmHiCorOrange, ddmHiCorRed], [ddmHiErrBlue, ddmHiErrOrange, ddmHiErrRed]],
  },
  {
    data: [[dataMidCorBlue, dataMidCorOrange, dataMidCorRed], [dataMidErrBlue, dataMidErrOrange, dataMidErrRed]],
    gddm: [[gddmMidCorBlue, gddmMidCorOrange, gddmMidCorRed], [gddmMidErrBlue, gddmMidErrOrange, gddmMidErrRed]],
    ddm: [[ddmMidCorBlue, ddmMidCorOrange, ddmMidCorRed], [ddmMidErrBlue, ddmMidErrOrange, ddmMidErrRed]],
  },
  {
    data: [[dataLowCorBlue, dataLowCorOrange, dataLowCorRed], [dataLowErrBlue, dataLowErrOrange, dataLowErrRed]],
    gddm: [[gddmLowCorBlue, gddmLowCorOrange, gddmLowCorRed], [gddmLowErrBlue, gddmLowErrOrange, gddmLowErrRed]],
    ddm: [[ddmLowCorBlue, ddmLowCorOrange, ddmLowCorRed], [ddmLowErrBlue, ddmLowErrOrange, ddmLowErrRed]],
  },
];

export default function App() {
  const plots: any[] = [];
  [0, 1].forEach((half) => {
    const dy = half * HALF_SHIFT;
    const gd = half === 0;
    plots.push({ key: `choice${half}`, f: frame(341, 356 + dy, 431, 431, 216, 95, 60, 184),
      build: choiceBuild(gd ? [gddmChoiceBlue, gddmChoiceOrange, gddmChoiceRed] : [ddmChoiceBlue, ddmChoiceOrange, ddmChoiceRed]) });
    const rtModels = gd
      ? [[zip(gddmLeftGrid, gddmRtBlueL), zip(gddmRightGrid, gddmRtBlueR)], [zip(gddmLeftGrid, gddmRtOrangeL), zip(gddmRightGrid, gddmRtOrangeR)], [zip(gddmLeftGrid, gddmRtRedL), zip(gddmRightGrid, gddmRtRedR)]]
      : [[zip(ddmGrid, ddmRtBlue)], [zip(ddmGrid, ddmRtOrange)], [zip(ddmGrid, ddmRtRed)]];
    const smModels = gd
      ? [[zip(gddmLeftGrid, gddmSampleBlueL), zip(gddmRightGrid, gddmSampleBlueR)], [zip(gddmLeftGrid, gddmSampleOrangeL), zip(gddmRightGrid, gddmSampleOrangeR)], [zip(gddmLeftGrid, gddmSampleRedL), zip(gddmRightGrid, gddmSampleRedR)]]
      : [[zip(ddmGrid, ddmSampleBlue)], [zip(ddmGrid, ddmSampleOrange)], [zip(ddmGrid, ddmSampleRed)]];
    plots.push({ key: `rt${half}`, f: frame(1074, 184 + dy, 344, 345, 169, 40, 60, 40),
      build: rtBuild(rtModels, [rtBlue, rtOrange, rtRed], 1.9, true, 'RT (s)') });
    plots.push({ key: `sm${half}`, f: frame(1074, 614 + dy, 344, 346, 169, 40, 60, 181),
      build: rtBuild(smModels, [sampleBlue, sampleOrange, sampleRed], 1.6, false, 'Sample RT (s)') });
    pdfSets.forEach((set, c) => {
      const L = c === 0 ? 170 : 40;
      const model = gd ? set.gddm : set.ddm;
      plots.push({ key: `cor${half}${c}`, f: frame(COL_X[c], 185 + dy, PDF_W, 516, L, 40, 40, 40),
        build: pdfBuild(set.data[0], model[0], false, c === 0) });
      plots.push({ key: `err${half}${c}`, f: frame(COL_X[c], 830 + dy, PDF_W, 129, L, 80, 40, 183),
        build: pdfBuild(set.data[1], model[1], true, c === 0) });
    });
  });

  const letters: any[] = [['a', 233, 262], ['b', 960, 145], ['c', 1638, 143], ['d', 233, 1528], ['e', 960, 1411], ['f', 1640, 1409]];
  const rows = [1208, 1292, 1376];

  return (
    <div style={{ position: 'absolute', left: 0, top: 0, width: 3500, height: 2414, background: '#fff', overflow: 'hidden' }}>
      {plots.map((p) => <Plot key={p.key} f={p.f} build={p.build} />)}
      {letters.map(([t, x, y]) => <Txt key={t} x={x} y={y} size={98} bold>{t}</Txt>)}
      <Txt x={1772} y={47} size={57} bold center stroke={1.5}>GDDM</Txt>
      <Txt x={1772} y={1313} size={57} bold center stroke={1.5}>DDM + reward bias</Txt>
      {[0, 1].map((h) => columnTitles.map((t, c) => (
        <Txt key={`${h}${c}`} x={COL_X[c] + PDF_W / 2} y={143 + h * HALF_SHIFT} size={55} center>{t}</Txt>
      )))}
      {[0, 1].map((h) => (
        <Txt key={`cc${h}`} x={1246} y={1129 + h * HALF_SHIFT} size={55} center>Color coherence</Txt>
      ))}
      <div style={{ position: 'absolute', left: 7, top: 1016, width: 895, height: 397, boxSizing: 'border-box', border: '3px solid #8c8c8c', background: '#fff' }} />
      <Txt x={78} y={1183} size={55} rotate={-52}>Data</Txt>
      <Txt x={307} y={1183} size={55} rotate={-52}>Model</Txt>
      {rows.map((ry, i) => (
        <React.Fragment key={i}>
          <div style={{ position: 'absolute', left: 38 - 24, top: ry - 24, width: 48, height: 48, borderRadius: '50%', background: COLORS[i] }} />
          <div style={{ position: 'absolute', left: 111, top: ry - 10.5, width: 96, height: 21, background: PALES[i] }} />
          <div style={{ position: 'absolute', left: 278, top: ry - 10.5, width: 97, height: 21, background: COLORS[i] }} />
          <Txt x={426} y={ry + 16} size={54}>{conditionLabels[i]}</Txt>
        </React.Fragment>
      ))}
    </div>
  );
}
